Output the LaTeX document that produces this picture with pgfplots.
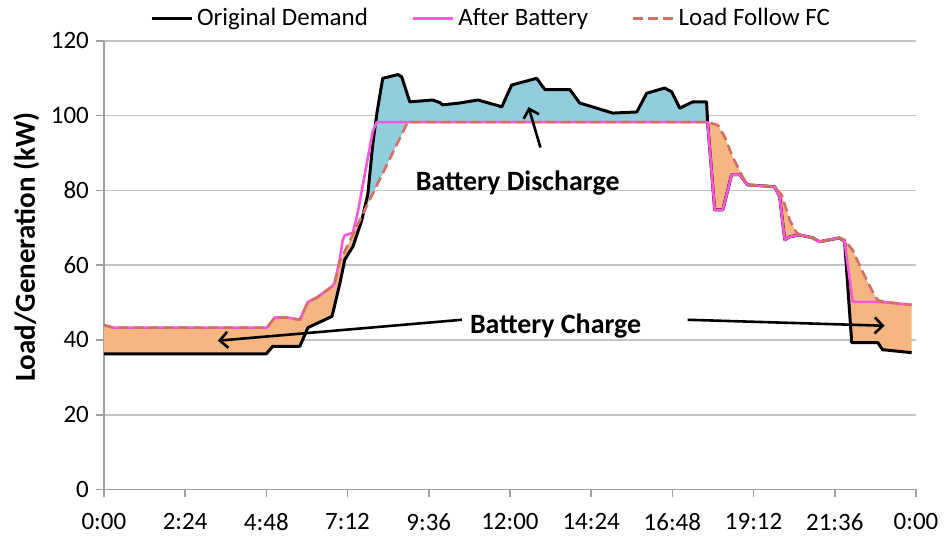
\documentclass[border=0pt]{standalone}
\usepackage{fontspec}
\setmainfont{Carlito}
\usepackage{pgfplots}
\usepackage{pgfplotstable}
\pgfplotsset{compat=1.18}
\usepgfplotslibrary{fillbetween}
\usetikzlibrary{arrows.meta}

\definecolor{pinkb}{RGB}{255,85,220}
\definecolor{fcred}{RGB}{210,112,97}
\definecolor{chg}{RGB}{245,182,130}
\definecolor{dis}{RGB}{146,205,222}
\definecolor{gridc}{RGB}{195,195,195}
\definecolor{axc}{RGB}{160,160,160}

\pgfplotstableread{
x y
0 36.3
4.80 36.3
4.99 38.3
5.79 38.3
6.03 43.3
6.74 46.3
6.80 48.5
6.97 55
7.12 61.5
7.36 65
7.62 72
7.674 74.08
7.80 79
7.95 92.7
8.07 100.8
8.24 110
8.69 111
8.80 110.4
9.04 103.7
9.72 104.2
9.93 103.5
10.01 102.9
10.52 103.4
11.05 104.2
11.76 102.4
12.05 108.2
12.79 110
13.03 107
13.77 107
14.06 103.4
15.04 100.7
15.75 101
16.04 106
16.57 107.4
16.78 106.4
17.02 102
17.40 103.7
17.81 103.7
17.84 98.3
18.05 74.8
18.29 74.8
18.55 84.2
18.79 84.2
19.02 81.5
19.82 81
19.97 78.3
20.12 66.8
20.27 67.6
20.56 68.1
20.86 67.5
20.95 67.3
21.15 66.3
21.74 67.3
21.89 66.3
22.10 39.3
22.87 39.3
23.01 37.4
23.87 36.6
}\demand

\pgfplotstableread{
x y
0 44
0.27 43.3
4.82 43.3
5.05 46
5.41 46
5.79 45.4
6.03 50.2
6.29 51.3
6.74 54.3
6.82 55.3
6.97 61.5
7.06 66.8
7.12 68
7.36 68.7
7.50 74
7.95 96
8.07 98.3
17.84 98.3
18.05 74.8
18.29 74.8
18.55 84.2
18.79 84.2
19.02 81.5
19.82 81
19.97 78.3
20.12 66.8
20.27 67.6
20.56 68.1
20.86 67.5
20.95 67.3
21.15 66.3
21.74 67.3
21.89 66.3
22.13 50.2
22.78 50.2
23.22 50
23.87 49.4
}\battery

\pgfplotstableread{
x y
0 44
0.27 43.3
4.82 43.3
5.05 46
5.41 46
5.79 45.4
6.03 50.2
6.29 51.3
6.74 54.3
6.82 55.3
6.97 61
7.674 74.08
8.98 98.3
17.84 98.3
18.14 97.5
18.35 94.3
18.58 89
18.88 83.6
19.02 81.5
19.82 81
20.03 78.8
20.27 72
20.47 68.7
20.56 68.1
20.86 67.5
20.95 67.3
21.15 66.3
21.74 67.3
21.89 66.8
22.13 64
22.39 58.8
22.69 53.4
22.87 50.6
23.22 50
23.87 49.4
}\fc

\begin{document}
\begin{tikzpicture}
\begin{axis}[
  width=406.5pt, height=224.5pt, scale only axis,
  xmin=0, xmax=24, ymin=0, ymax=120,
  xtick={0,2.4,4.8,7.2,9.6,12,14.4,16.8,19.2,21.6,24},
  xticklabels={0:00,2:24,4:48,7:12,9:36,12:00,14:24,16:48,19:12,21:36,0:00},
  ytick={0,20,40,60,80,100,120},
  axis x line*=bottom, axis y line*=left,
  axis line style={axc, line width=0.8pt, -},
  ymajorgrids, grid style={gridc, line width=0.8pt},
  tick style={axc, line width=0.8pt}, tick align=outside, major tick length=4pt,
  /pgf/number format/assume math mode=true,
  ticklabel style={font=\fontsize{12.5}{14}\selectfont, text=black},
  xticklabel style={yshift=-4.5pt},
  ylabel={\textbf{Load/Generation (kW)}},
  ylabel style={font=\fontsize{14.5}{16}\selectfont, at={(ticklabel cs:0.54)}, yshift=-1pt},
  legend columns=3,
  legend style={draw=none, fill=none, at={(0.478,1)}, anchor=south, yshift=2pt,
    font=\fontsize{12.5}{14}\selectfont,
    /tikz/every even column/.append style={column sep=20pt}},
  legend image code/.code={\draw[#1] (0pt,0pt) -- (20pt,0pt);},
]
\addplot[draw=none, name path=dem, forget plot] table[x=x,y=y] {\demand};
\addplot[draw=none, name path=fcp, forget plot] table[x=x,y=y] {\fc};
\addplot[chg, forget plot] fill between[of=dem and fcp];
\addplot[dis, forget plot] fill between[of=dem and fcp, soft clip={domain=7.674:17.84}];

\addplot[black, line width=1.5pt, line join=round] table[x=x,y=y] {\demand};
\addlegendentry{Original Demand}
\addplot[pinkb, line width=1.3pt, line join=round] table[x=x,y=y] {\battery};
\addlegendentry{After Battery}
\addplot[fcred, line width=1.3pt, dash pattern=on 5pt off 2.5pt, line join=round] table[x=x,y=y] {\fc};
\addlegendentry{Load Follow FC}

\node[font=\bfseries\fontsize{14}{16}\selectfont] at (axis cs:12.23,82) {Battery Discharge};
\node[font=\bfseries\fontsize{14}{16}\selectfont] at (axis cs:13.35,43.8) {Battery Charge};
\draw[line width=1.3pt, -{Straight Barb[length=4pt,width=8pt]}] (axis cs:12.9,91.5) -- (axis cs:12.55,102.3);
\draw[line width=1.3pt, -{Straight Barb[length=4pt,width=8pt]}] (axis cs:10.58,45.4) -- (axis cs:3.37,39.8);
\draw[line width=1.3pt, -{Straight Barb[length=4pt,width=8pt]}] (axis cs:17.25,45.4) -- (axis cs:23.07,43.8);
\end{axis}
\path (current axis.south west) ++(-52pt,-26.5pt) (current axis.north east) ++(14pt,20.5pt);
\end{tikzpicture}
\end{document}
